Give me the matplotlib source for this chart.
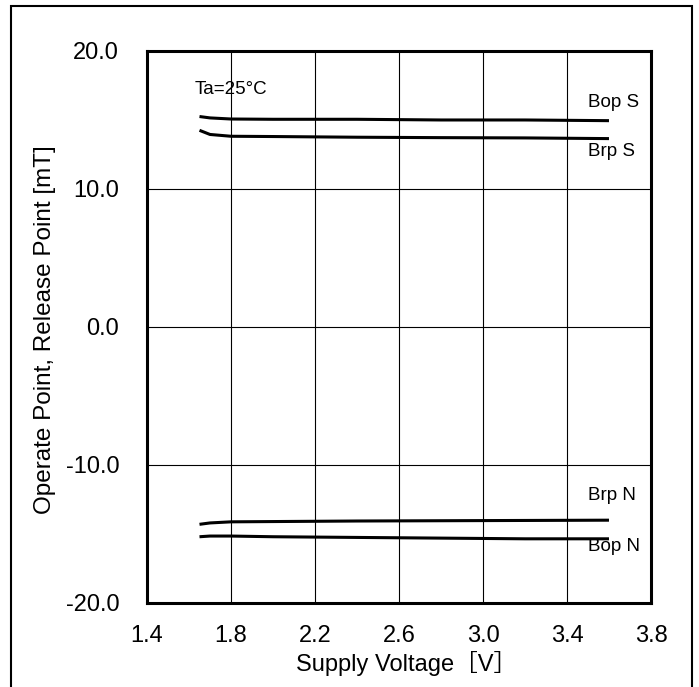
import matplotlib
matplotlib.use('Agg')
import matplotlib.pyplot as plt
from matplotlib.patches import Rectangle

plt.rcParams['font.family'] = ['Liberation Sans', 'Noto Sans CJK JP', 'DejaVu Sans']

# supply voltage [V]
voltage = [1.65, 1.70, 1.80, 2.00, 2.40, 2.80, 3.20, 3.60]
# operate / release points [mT]
bop_s = [15.25, 15.15, 15.07, 15.05, 15.05, 15.00, 15.00, 14.95]
brp_s = [14.25, 13.95, 13.82, 13.80, 13.75, 13.72, 13.70, 13.65]
brp_n = [-14.30, -14.20, -14.12, -14.10, -14.06, -14.04, -14.02, -14.00]
bop_n = [-15.20, -15.15, -15.15, -15.20, -15.25, -15.30, -15.35, -15.35]

x_ticks = [1.4, 1.8, 2.2, 2.6, 3.0, 3.4, 3.8]
y_ticks = [-20.0, -10.0, 0.0, 10.0, 20.0]

fig = plt.figure(figsize=(6.99, 6.87), dpi=100)
ax = fig.add_axes([0.2103, 0.1223, 0.721, 0.8035])

for series in (bop_s, brp_s, brp_n, bop_n):
    ax.plot(voltage, series, color='black', lw=2.2, solid_capstyle='butt', zorder=3)

ax.set_xlim(1.4, 3.8)
ax.set_ylim(-20, 20)
ax.set_xticks(x_ticks)
ax.set_xticklabels(['%.1f' % v for v in x_ticks])
ax.set_yticks(y_ticks)
ax.set_yticklabels(['%.1f' % v for v in y_ticks])
ax.tick_params(axis='both', length=0, labelsize=17, colors='black')
ax.tick_params(axis='x', pad=16)
ax.tick_params(axis='y', pad=20)
ax.grid(True, color='black', lw=0.8)

for sp in ax.spines.values():
    sp.set_linewidth(2.2)
    sp.set_zorder(4)

ax.set_xlabel('Supply Voltage［V］', fontsize=17)
ax.xaxis.set_label_coords(0.515, -0.087)
ax.set_ylabel('Operate Point, Release Point [mT]', fontsize=17.5)
ax.yaxis.set_label_coords(-0.18, 0.495)

ax.text(1.629, 17.2, 'Ta=25°C', fontsize=13.5, ha='left', va='center')
ax.text(3.5, 16.3, 'Bop S', fontsize=13.5, ha='left', va='center')
ax.text(3.5, 12.7, 'Brp S', fontsize=13.5, ha='left', va='center')
ax.text(3.5, -12.2, 'Brp N', fontsize=13.5, ha='left', va='center')
ax.text(3.5, -15.9, 'Bop N', fontsize=13.5, ha='left', va='center')

# outer frame (bottom edge falls outside the image)
fig.patches.append(Rectangle((11 / 699, -0.05), 681 / 699, 1.05 - 6 / 687,
                             transform=fig.transFigure, fill=False,
                             lw=1.5, edgecolor='black', clip_on=False))

fig.savefig('out.png', dpi=100, facecolor='white')
